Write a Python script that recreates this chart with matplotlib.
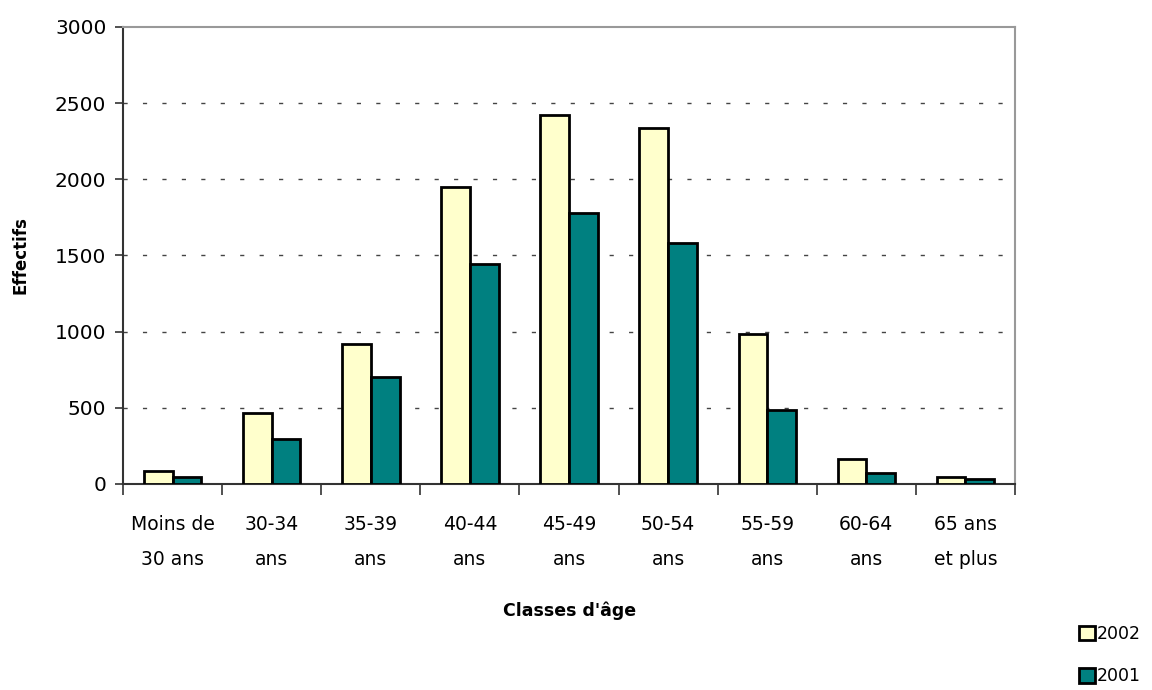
import numpy as np
import matplotlib
matplotlib.use('Agg')
import matplotlib.pyplot as plt

plt.rcParams['font.family'] = ['DejaVu Sans']

# --- data ---
categories = ["Moins de\n30 ans", "30-34\nans", "35-39\nans", "40-44\nans", "45-49\nans",
              "50-54\nans", "55-59\nans", "60-64\nans", "65 ans\net plus"]
vals_2002 = [85, 466, 920, 1950, 2422, 2337, 985, 164, 46]
vals_2001 = [46, 297, 702, 1442, 1779, 1582, 486, 72, 33]
yticks = [0, 500, 1000, 1500, 2000, 2500, 3000]

fig = plt.figure(figsize=(11.52, 6.9), dpi=100)
ax = fig.add_axes([0.1068, 0.2986, 0.7743, 0.6623])

x = np.arange(len(categories))
w = 0.29
b1 = ax.bar(x - w/2, vals_2002, w, color='#FFFFCC', edgecolor='black', linewidth=2.0,
            label='2002', zorder=3)
b2 = ax.bar(x + w/2, vals_2001, w, color='#008080', edgecolor='black', linewidth=2.0,
            label='2001', zorder=3)

ax.set_xlim(-0.5, len(categories) - 0.5)
ax.set_ylim(0, 3000)
ax.set_yticks(yticks)
ax.set_yticklabels([str(v) for v in yticks], fontsize=14.5)

# grid lines (dashed, sparse)
for v in yticks[1:-1]:
    ax.axhline(v, color='#444444', linewidth=1.0, linestyle=(0, (3, 11)), zorder=1)

# category labels at centres, tick marks at boundaries
ax.set_xticks(x)
ax.set_xticklabels(categories, fontsize=13.5, linespacing=2.1)
ax.tick_params(axis='x', which='major', length=0, pad=22)
ax.set_xticks(np.arange(-0.5, len(categories)), minor=True)
ax.tick_params(axis='x', which='minor', length=8, width=1.2, color='#333333', direction='out')
ax.tick_params(axis='y', length=6, width=1.2, color='#333333', pad=6)

for s in ['left', 'bottom']:
    ax.spines[s].set_color('#333333')
    ax.spines[s].set_linewidth(1.5)
for s in ['top', 'right']:
    ax.spines[s].set_color('#999999')
    ax.spines[s].set_linewidth(1.5)

ax.set_ylabel("Effectifs", fontsize=12, fontweight='bold', labelpad=18)
fig.text(0.494, 0.115, "Classes d'âge", fontsize=12.5, fontweight='bold', ha='center', va='center')

fig.legend(handles=[b1, b2], labels=['2002', '2001'], loc='lower left',
           bbox_to_anchor=(0.923, -0.016), frameon=False, fontsize=12.5,
           handlelength=0.9, handleheight=0.9, handletextpad=0.15, labelspacing=1.4)

fig.savefig("out.png", dpi=100)
